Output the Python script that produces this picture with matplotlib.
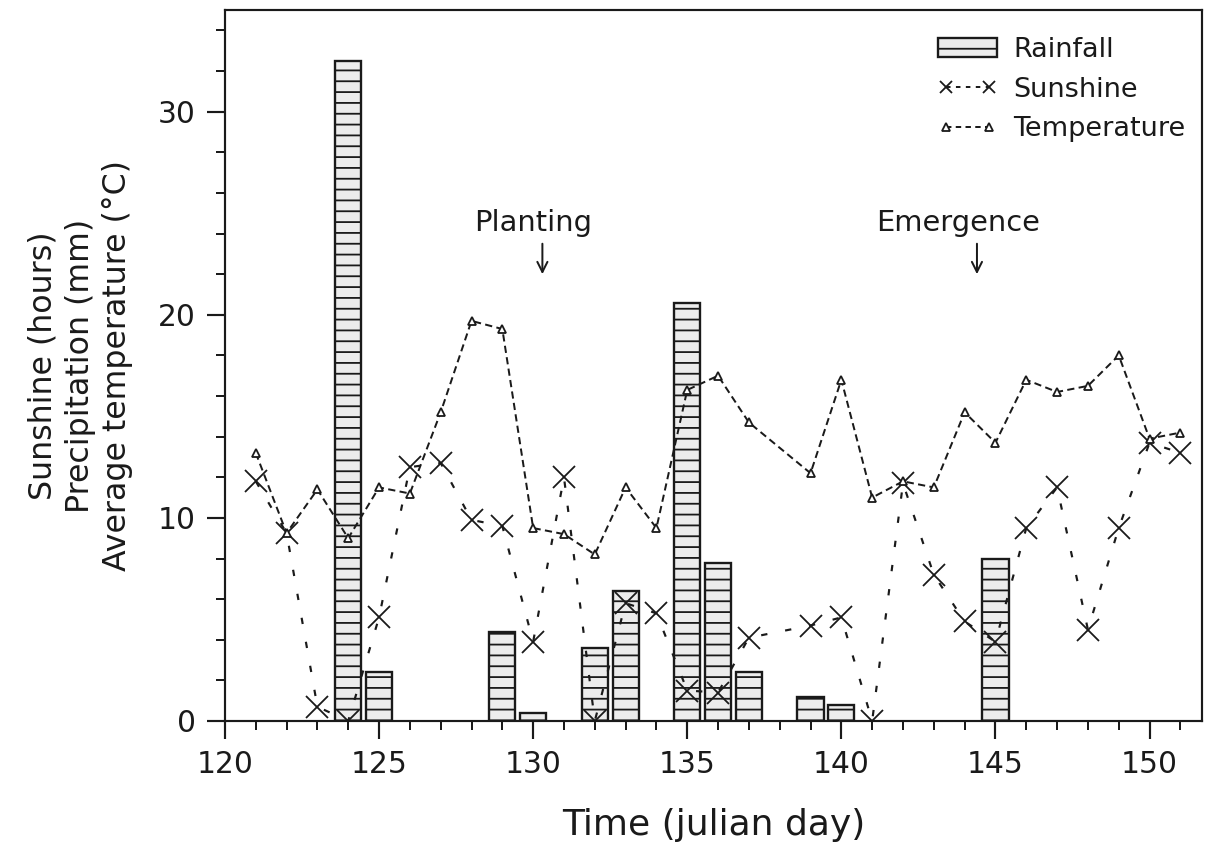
import matplotlib
matplotlib.use('Agg')
import matplotlib.pyplot as plt
import matplotlib.ticker as ticker
from matplotlib.lines import Line2D

# ── Data ─────────────────────────────────────────────────────────────────────
RAIN_DAYS = [124, 125, 129, 130, 132, 133, 135, 136, 137, 139, 140, 145]
RAINFALL = [32.5, 2.4, 4.4, 0.4, 3.6, 6.4, 20.6, 7.8, 2.4, 1.2, 0.8, 8.0]

# day 138 has no sunshine / temperature reading
DAYS = [121, 122, 123, 124, 125, 126, 127, 128, 129, 130, 131, 132, 133, 134, 135,
        136, 137, 139, 140, 141, 142, 143, 144, 145, 146, 147, 148, 149, 150, 151]
SUNSHINE = [11.8, 9.25, 0.7, 0.0, 5.1, 12.5, 12.7, 9.9, 9.6, 3.9, 12.0, 0.0, 5.8, 5.3, 1.5,
            1.4, 4.1, 4.7, 5.1, 0.0, 11.7, 7.2, 4.9, 3.9, 9.5, 11.5, 4.5, 9.5, 13.7, 13.2]
TEMPERATURE = [13.2, 9.25, 11.4, 9.0, 11.5, 11.2, 15.2, 19.7, 19.3, 9.5, 9.2, 8.2, 11.5, 9.5, 16.3,
               17.0, 14.7, 12.2, 16.8, 11.0, 11.8, 11.5, 15.2, 13.7, 16.8, 16.2, 16.5, 18.0, 13.9, 14.2]

EVENTS = ['Planting', 'Emergence']
EVENT_DAYS = [130.0, 143.8]
ARROW_DAYS = [130.3, 144.4]

# ── Style ────────────────────────────────────────────────────────────────────
DPI = 130
INK = '#1a1a1a'
plt.rcParams.update({
    'font.family': 'DejaVu Sans',
    'text.color': INK,
    'axes.edgecolor': INK,
    'axes.labelcolor': INK,
    'xtick.color': INK,
    'ytick.color': INK,
    'hatch.linewidth': 1.0,
    'hatch.color': INK,
    'lines.scale_dashes': False,
})

SUN_DASH = (0, (3.5, 10.0))
TEMP_DASH = (0, (4.0, 2.4))

fig = plt.figure(figsize=(1212 / DPI, 848 / DPI), dpi=DPI)
ax = fig.add_axes([0.1856, 0.1498, 0.9917 - 0.1856, 0.988 - 0.1498])

bars = ax.bar(RAIN_DAYS, RAINFALL, width=0.85, color='#ececec', edgecolor=INK,
              linewidth=1.3, hatch='--', label='Rainfall', zorder=2)

ax.plot(DAYS, SUNSHINE, linestyle=SUN_DASH, color=INK, linewidth=1.2,
        marker='x', markersize=12, markeredgewidth=1.0, zorder=3)
ax.plot(DAYS, TEMPERATURE, linestyle=TEMP_DASH, color=INK, linewidth=1.1,
        marker='^', markersize=4.5, markerfacecolor='white', markeredgewidth=1.0,
        markeredgecolor=INK, zorder=4)

for name, xd, xa in zip(EVENTS, EVENT_DAYS, ARROW_DAYS):
    ax.text(xd, 24.5, name, ha='center', va='center', fontsize=16)
    ax.annotate('', xy=(xa, 22.0), xytext=(xa, 23.5),
                arrowprops=dict(arrowstyle='->', color=INK, lw=1.1,
                                mutation_scale=14, shrinkA=0, shrinkB=0))

ax.set_xlim(120, 151.7)
ax.set_ylim(0, 35)
ax.xaxis.set_major_locator(ticker.MultipleLocator(5))
ax.xaxis.set_minor_locator(ticker.MultipleLocator(1))
ax.yaxis.set_major_locator(ticker.FixedLocator([0, 10, 20, 30]))
ax.yaxis.set_minor_locator(ticker.MultipleLocator(2))
ax.tick_params(which='major', direction='out', length=10, width=1.2, labelsize=16.5, pad=6)
ax.tick_params(which='minor', direction='out', length=5, width=1.1)

for s in ax.spines.values():
    s.set_linewidth(1.2)

ax.set_xlabel('Time (julian day)', fontsize=20, labelpad=16)
ax.set_ylabel('Sunshine (hours)\nPrecipitation (mm)\nAverage temperature (°C)',
              fontsize=17.5, linespacing=1.25, labelpad=14)

# legend handles use smaller markers, as in the original key
sun_key = Line2D([], [], linestyle=(0, (2.5, 3.0)), color=INK, linewidth=1.1,
                 marker='x', markersize=7, markeredgewidth=1.0)
temp_key = Line2D([], [], linestyle=(0, (3.0, 2.4)), color=INK, linewidth=1.1,
                  marker='^', markersize=4.5, markerfacecolor='white',
                  markeredgewidth=1.0, markeredgecolor=INK)
ax.legend([bars, sun_key, temp_key], ['Rainfall', 'Sunshine', 'Temperature'],
          loc='upper right', frameon=False, fontsize=15, numpoints=2,
          handlelength=2.2, handletextpad=0.6, labelspacing=0.5,
          borderaxespad=0.2, bbox_to_anchor=(1.0, 0.985))

fig.savefig('out.png', dpi=DPI)
